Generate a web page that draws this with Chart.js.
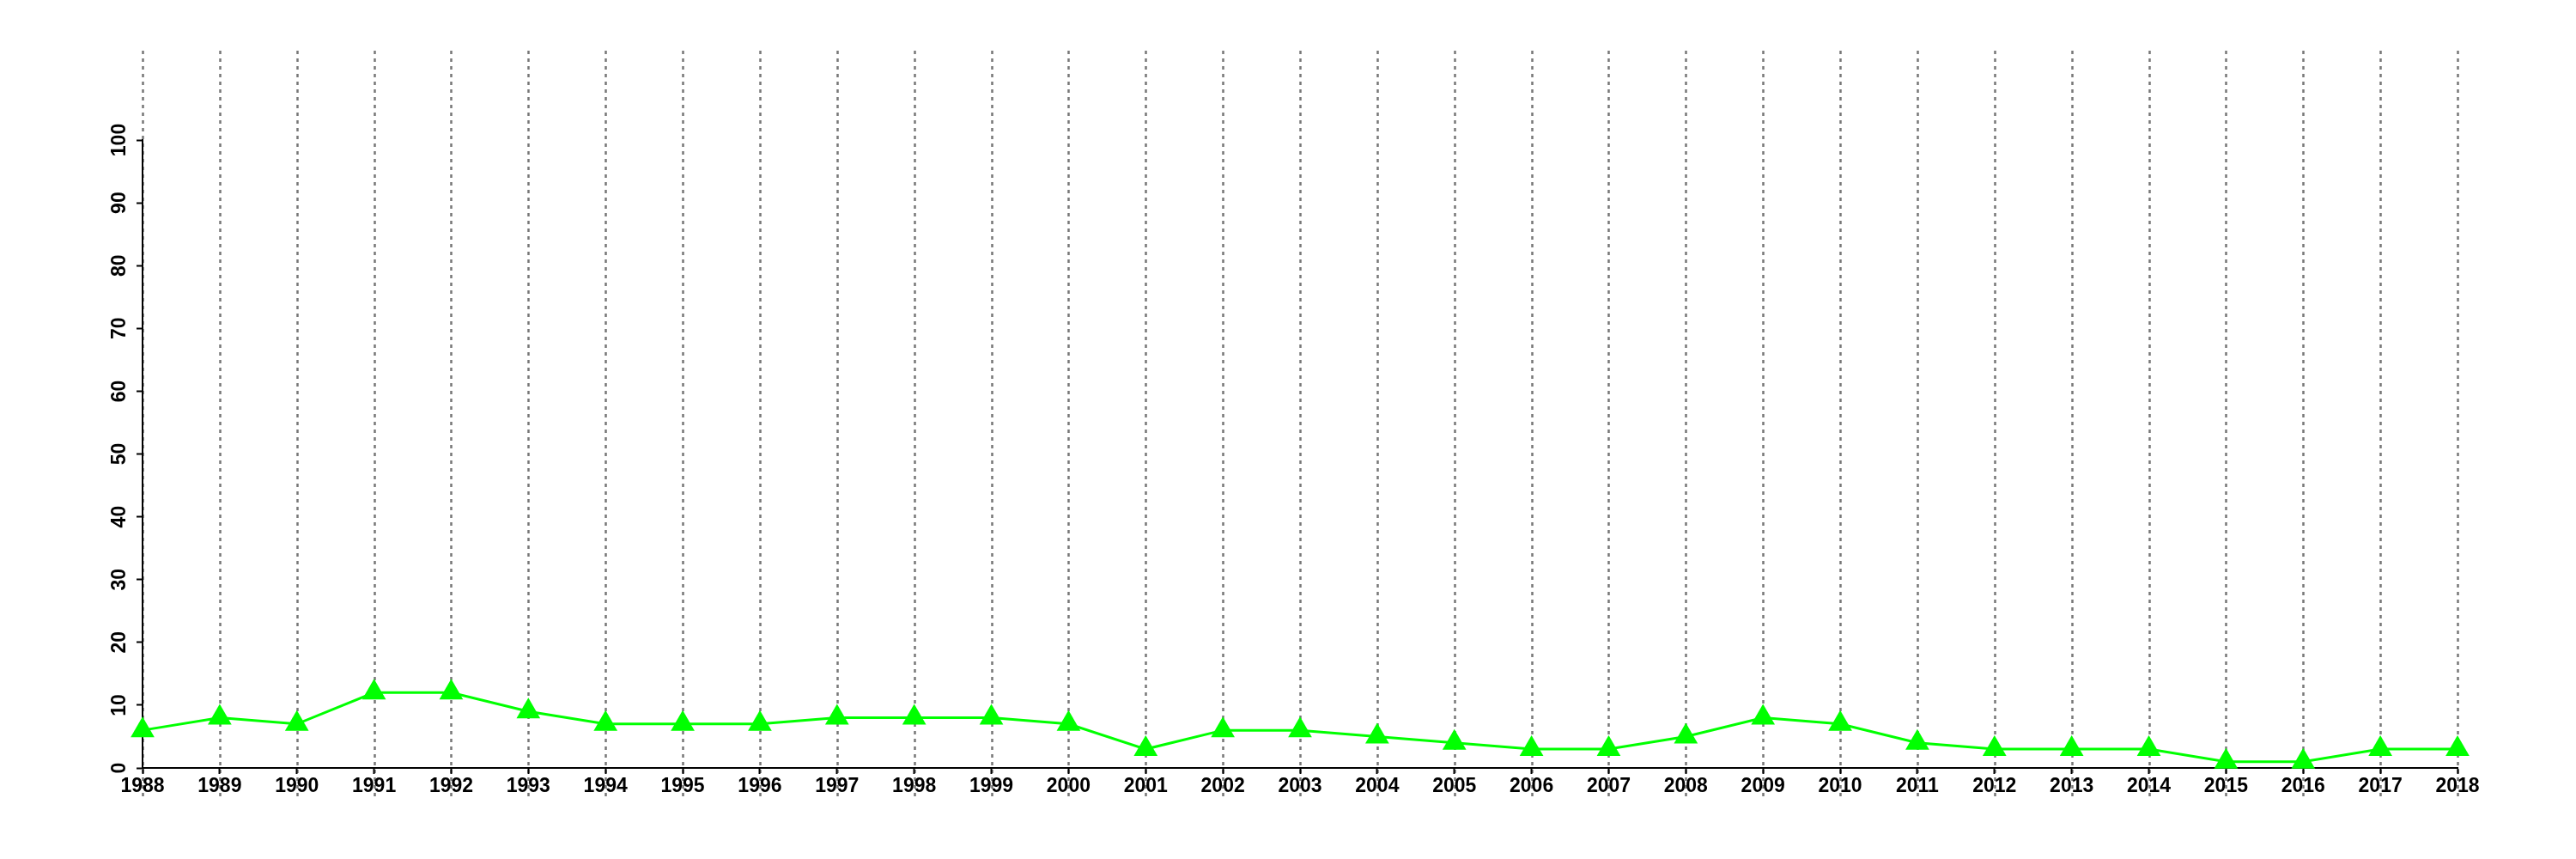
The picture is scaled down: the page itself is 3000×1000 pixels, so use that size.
<!DOCTYPE html>
<html>
<head>
<meta charset="utf-8">
<script src="https://cdn.jsdelivr.net/npm/chart.js@4.4.0/dist/chart.umd.min.js"></script>
<style>
  html, body { margin: 0; padding: 0; background: #fff; }
  #wrap { width: 3000px; height: 1000px; }
</style>
</head>
<body>
<div id="wrap"><canvas id="chart"></canvas></div>
<script>
// --- Data ---
const years = ["1988","1989","1990","1991","1992","1993","1994","1995","1996","1997",
  "1998","1999","2000","2001","2002","2003","2004","2005","2006","2007",
  "2008","2009","2010","2011","2012","2013","2014","2015","2016","2017","2018"];
const values = [6, 8, 7, 12, 12, 9, 7, 7, 7, 8,
  8, 8, 7, 3, 6, 6, 5, 4, 3, 3,
  5, 8, 7, 4, 3, 3, 3, 1, 1, 3, 3];
const yMin = 0;
const yMax = 100;
const yStep = 10;

// --- Dotted vertical guides (extend above/below the plot like the original) ---
const yearGuides = {
  id: "yearGuides",
  beforeDraw(chart) {
    const { ctx, chartArea, scales } = chart;
    ctx.save();
    ctx.strokeStyle = "#777777";
    ctx.lineWidth = 2.5;
    ctx.setLineDash([4, 5]);
    years.forEach((y, i) => {
      const x = Math.round(scales.x.getPixelForValue(i)) + 0.5;
      ctx.beginPath();
      ctx.moveTo(x, chartArea.top - 104);
      ctx.lineTo(x, chartArea.bottom + 33);
      ctx.stroke();
    });
    ctx.restore();
  }
};

const font = { family: "'Liberation Sans', Arial, sans-serif", size: 23, weight: "bold" };

const ctx = document.getElementById("chart").getContext("2d");
new Chart(ctx, {
  type: "line",
  data: {
    labels: years,
    datasets: [{
      data: values,
      borderColor: "#00ff00",
      backgroundColor: "#00ff00",
      borderWidth: 3,
      pointStyle: "triangle",
      pointRadius: 16,
      pointHoverRadius: 16,
      pointBorderWidth: 0,
      tension: 0,
      clip: false
    }]
  },
  options: {
    responsive: true,
    maintainAspectRatio: false,
    devicePixelRatio: 1,
    animation: false,
    layout: { padding: { left: 0, top: 163, right: 138, bottom: 0 } },
    plugins: { legend: { display: false }, tooltip: { enabled: false } },
    scales: {
      x: {
        offset: false,
        grid: { drawOnChartArea: false, drawTicks: true, tickLength: 7, tickColor: "#000", tickWidth: 2 },
        border: { display: true, color: "#000", width: 2 },
        ticks: { color: "#000", font, padding: 1, maxRotation: 0, autoSkip: false },
        afterFit(scale) { scale.height = 106; }
      },
      y: {
        min: yMin,
        max: yMax,
        grid: { drawOnChartArea: false, drawTicks: true, tickLength: 7, tickColor: "#000", tickWidth: 2 },
        border: { display: true, color: "#000", width: 2 },
        ticks: { stepSize: yStep, color: "#000", font, padding: 0, crossAlign: "center", minRotation: 90, maxRotation: 90 },
        afterFit(scale) { scale.width = 166; }
      }
    }
  },
  plugins: [yearGuides]
});
</script>
</body>
</html>
